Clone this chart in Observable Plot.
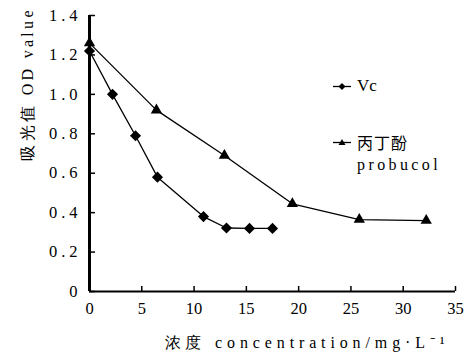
<!DOCTYPE html>
<html>
<head>
<meta charset="utf-8">
<script src="https://cdn.jsdelivr.net/npm/d3@7"></script>
<script src="https://cdn.jsdelivr.net/npm/@observablehq/plot@0.6"></script>
<style>
  html, body { margin: 0; padding: 0; background: #fff; }
  #wrap { position: relative; width: 465px; height: 363px; }
  #wrap svg text { font-family: "Liberation Serif", "Times New Roman", serif; }
  #wrap svg g[aria-label="y-axis tick label"] text { letter-spacing: 4px; }
  .leg { position: absolute; display: flex; align-items: center; font-size: 16px; color: #000; font-family: "Liberation Serif", "Times New Roman", serif; }
  .leg svg { display: block; }
  .cjk { font-family: "Noto Sans CJK SC", sans-serif; letter-spacing: 1px; }
  .sp { letter-spacing: 3.4px; }
</style>
</head>
<body>
<div id="wrap"></div>
<script>
// Data
const vcX = [0, 2.2, 4.4, 6.5, 10.9, 13.1, 15.3, 17.5];
const vcY = [1.22, 1.0, 0.79, 0.58, 0.38, 0.322, 0.32, 0.32];
const proX = [0, 6.4, 12.9, 19.4, 25.8, 32.2];
const proY = [1.26, 0.92, 0.69, 0.445, 0.365, 0.36];
const xTicks = [0, 5, 10, 15, 20, 25, 30, 35];
const xTickLabels = ["0", "5", "10", "15", "20", "25", "30", "35"];
const yTicks = [0, 0.2, 0.4, 0.6, 0.8, 1.0, 1.2, 1.4];
const yTickLabels = ["0", "0.2", "0.4", "0.6", "0.8", "1.0", "1.2", "1.4"];
const xLabel = "浓度 concentration/mg·L⁻¹";
const yLabel = "吸光值 OD value";
const seriesNames = ["Vc", "丙丁酚", "probucol"];

const vc = vcX.map((x, i) => ({x, y: vcY[i]}));
const pro = proX.map((x, i) => ({x, y: proY[i]}));

const chart = Plot.plot({
  width: 465,
  height: 363,
  marginLeft: 89,
  marginRight: 10,
  marginTop: 15,
  marginBottom: 72,
  style: {fontFamily: "'Liberation Serif', 'Times New Roman', serif", fontSize: "16px", color: "#000", background: "#fff"},
  x: {domain: [0, 35], label: null},
  y: {domain: [0, 1.4], label: null},
  marks: [
    Plot.axisX({ticks: xTicks, tickSize: -5, tickFormat: () => "", label: null, strokeWidth: 1.5}),
    Plot.axisX({ticks: xTicks, tickSize: 0, tickPadding: 11, label: null,
      tickFormat: d => xTickLabels[xTicks.indexOf(d)], fontSize: 16.5}),
    Plot.axisY({ticks: yTicks, tickSize: -6, tickFormat: () => "", label: null, strokeWidth: 1.5}),
    Plot.axisY({ticks: yTicks, tickSize: 0, tickPadding: 8, label: null,
      tickFormat: d => yTickLabels[yTicks.indexOf(d)], fontSize: 16.5}),
    Plot.line(vc, {x: "x", y: "y", stroke: "#000", strokeWidth: 1.3}),
    Plot.line(pro, {x: "x", y: "y", stroke: "#000", strokeWidth: 1.3}),
    Plot.dot(vc, {x: "x", y: "y", symbol: "diamond2", r: 5, fill: "#000"}),
    Plot.dot(pro, {x: "x", y: "y", symbol: "triangle", r: 4.2, fill: "#000"}),
    Plot.ruleX([0], {stroke: "#000", strokeWidth: 3}),
    Plot.ruleY([0], {stroke: "#000", strokeWidth: 2}),
    Plot.text([xLabel], {frameAnchor: "bottom", dx: 32, dy: 56, fontSize: 16, className: "xlab"}),
    Plot.text([yLabel], {frameAnchor: "left", dx: -62, dy: 7, rotate: -90, fontSize: 16, className: "ylab"})
  ]
});
const wrap = document.getElementById("wrap");
wrap.appendChild(chart);

// Stretch axis titles to the reference's spread-out monospace look
chart.querySelectorAll(".xlab text").forEach(t => { t.setAttribute("textLength", 280); t.setAttribute("lengthAdjust", "spacing"); });
chart.querySelectorAll(".ylab text").forEach(t => { t.setAttribute("textLength", 150); t.setAttribute("lengthAdjust", "spacing"); });

// Legend overlay
function sym(type) {
  const s = type === "diamond"
    ? '<path d="M9,3 L12.5,6.5 L9,10 L5.5,6.5 Z" fill="#000"/>'
    : '<path d="M9,3 L12.5,9 L5.5,9 Z" fill="#000"/>';
  return '<svg width="18" height="13" viewBox="0 0 18 13"><line x1="0" y1="6.5" x2="18" y2="6.5" stroke="#000" stroke-width="1.3"/>' + s + '</svg>';
}
const l1 = document.createElement("div");
l1.className = "leg";
l1.style.left = "333px"; l1.style.top = "76px";
l1.innerHTML = sym("diamond") + '<span style="margin-left:6px;font-size:17px">' + seriesNames[0] + '</span>';
wrap.appendChild(l1);
const l2 = document.createElement("div");
l2.className = "leg";
l2.style.left = "333px"; l2.style.top = "131px";
l2.innerHTML = sym("triangle") + '<span class="cjk" style="margin-left:6px;line-height:22px">' + seriesNames[1] + '</span>';
wrap.appendChild(l2);
const l3 = document.createElement("div");
l3.className = "leg sp";
l3.style.left = "357px"; l3.style.top = "156px";
l3.textContent = seriesNames[2];
wrap.appendChild(l3);
</script>
</body>
</html>
